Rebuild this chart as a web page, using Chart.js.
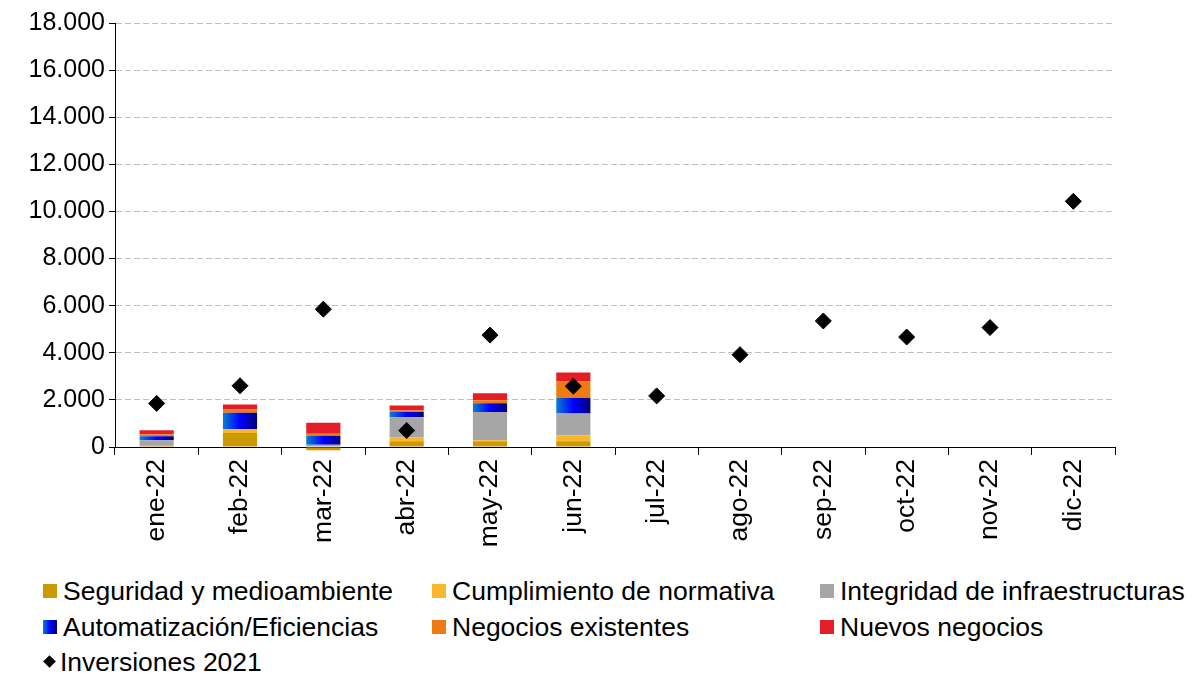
<!DOCTYPE html>
<html>
<head>
<meta charset="utf-8">
<script src="https://cdn.jsdelivr.net/npm/chart.js@4/dist/chart.umd.min.js"></script>
<style>
body{margin:0;background:#fff;font-family:Arial,"Liberation Sans",sans-serif;}
#wrap{position:relative;width:1199px;height:678px;}
#legend{position:absolute;left:0;top:575px;width:1199px;font-size:26.5px;color:#000;}
.item{position:absolute;white-space:nowrap;line-height:30px;}
.sw{display:inline-block;width:14px;height:14px;margin-right:6px;vertical-align:2px;}
.dia{display:inline-block;width:9px;height:9px;background:#000;transform:rotate(45deg);margin:0 6px 0 2px;vertical-align:5px;}
</style>
</head>
<body>
<div id="wrap">
<canvas id="chart" width="1199" height="570"></canvas>
<div id="legend"></div>
</div>
<script>
// data
var months = ['ene-22','feb-22','mar-22','abr-22','may-22','jun-22','jul-22','ago-22','sep-22','oct-22','nov-22','dic-22'];
var seguridad = [60, 594, -141, 240, 240, 240];
var cumplimiento = [0, 155, 0, 170, 45, 254];
var integridad = [225, 0, 100, 848, 1201, 933];
var automatizacion = [170, 707, 382, 226, 367, 650];
var negociosExistentes = [85, 141, 85, 70, 127, 707];
var nuevosNegocios = [170, 212, 466, 212, 297, 382];
var inversiones2021 = [1850, 2600, 5850, 700, 4750, 2580, 2170, 3920, 5350, 4670, 5070, 10430];
var yTicks = [0, 2000, 4000, 6000, 8000, 10000, 12000, 14000, 16000, 18000];

var barPct = 0.41;

function blueGradient(c) {
  var chart = c.chart;
  var x = chart.scales.x;
  if (c.type !== 'data' || !x || !chart.chartArea) return '#0000ff';
  var cx = x.getPixelForValue(c.dataIndex);
  var w = (x.width / months.length) * barPct;
  var g = chart.ctx.createLinearGradient(cx - w / 2, 0, cx + w / 2, 0);
  g.addColorStop(0, '#0a7fd2');
  g.addColorStop(0.5, '#0000ff');
  g.addColorStop(1, '#00007a');
  return g;
}

function fmt(v) {
  return v.toString().replace(/\B(?=(\d{3})+(?!\d))/g, '.');
}

function barSet(label, data, color) {
  return {type: 'bar', label: label, data: data, backgroundColor: color, stack: 's', order: 1, clip: false};
}

Chart.defaults.font.family = 'Arial, "Liberation Sans", sans-serif';
Chart.defaults.color = '#000';

new Chart(document.getElementById('chart'), {
  data: {
    labels: months,
    datasets: [
      {type: 'line', label: 'Inversiones 2021', data: inversiones2021, showLine: false,
       pointStyle: 'rectRot', pointRadius: 8, pointBackgroundColor: '#000', pointBorderColor: '#000', order: 0},
      barSet('Seguridad y medioambiente', seguridad, '#cc9900'),
      barSet('Cumplimiento de normativa', cumplimiento, '#f9b72c'),
      barSet('Integridad de infraestructuras', integridad, '#a6a6a6'),
      barSet('Automatización/Eficiencias', automatizacion, blueGradient),
      barSet('Negocios existentes', negociosExistentes, '#ef7a14'),
      barSet('Nuevos negocios', nuevosNegocios, '#e31e26')
    ]
  },
  options: {
    responsive: false,
    animation: false,
    devicePixelRatio: 1,
    layout: {padding: {top: 23, right: 84, left: 0, bottom: 0}},
    datasets: {bar: {categoryPercentage: 1, barPercentage: barPct}},
    plugins: {legend: {display: false}, tooltip: {enabled: false}},
    scales: {
      x: {
        stacked: true,
        offset: true,
        grid: {drawOnChartArea: false, drawTicks: true, tickLength: 8, color: '#000', offset: true},
        border: {color: '#000', width: 1},
        ticks: {minRotation: 90, maxRotation: 90, font: {size: 26.5}, padding: 4, autoSkip: false},
        afterFit: function (s) { s.height = 123; }
      },
      y: {
        stacked: true,
        min: 0, max: 18000,
        afterBuildTicks: function (s) { s.ticks = yTicks.map(function (v) { return {value: v}; }); },
        grid: {
          color: function (c) { return c.tick && c.tick.value === 0 ? 'rgba(0,0,0,0)' : '#c0c0c0'; },
          tickColor: '#000',
          tickLength: 6,
          lineWidth: 1
        },
        border: {color: '#000', width: 1, dash: [6, 3]},
        ticks: {font: {size: 25}, padding: 4, callback: function (v) { return fmt(v); }},
        afterFit: function (s) { s.width = 115; }
      }
    }
  }
});

// legend in three columns like the original
var legendItems = [
  ['Seguridad y medioambiente', '#cc9900', 43, 0],
  ['Cumplimiento de normativa', '#f9b72c', 432, 0],
  ['Integridad de infraestructuras', '#a6a6a6', 820, 0],
  ['Automatización/Eficiencias', 'linear-gradient(to right,#0a7fd2,#0000ff,#00007a)', 43, 1],
  ['Negocios existentes', '#ef7a14', 432, 1],
  ['Nuevos negocios', '#e31e26', 820, 1]
];
var lg = document.getElementById('legend');
legendItems.forEach(function (it) {
  var d = document.createElement('div');
  d.className = 'item';
  d.style.left = it[2] + 'px';
  d.style.top = (it[3] * 36 + 1) + 'px';
  d.innerHTML = '<span class="sw" style="background:' + it[1] + '"></span>' + it[0];
  lg.appendChild(d);
});
var inv = document.createElement('div');
inv.className = 'item';
inv.style.left = '43px';
inv.style.top = '72px';
inv.innerHTML = '<span class="dia"></span>Inversiones 2021';
lg.appendChild(inv);
</script>
</body>
</html>
